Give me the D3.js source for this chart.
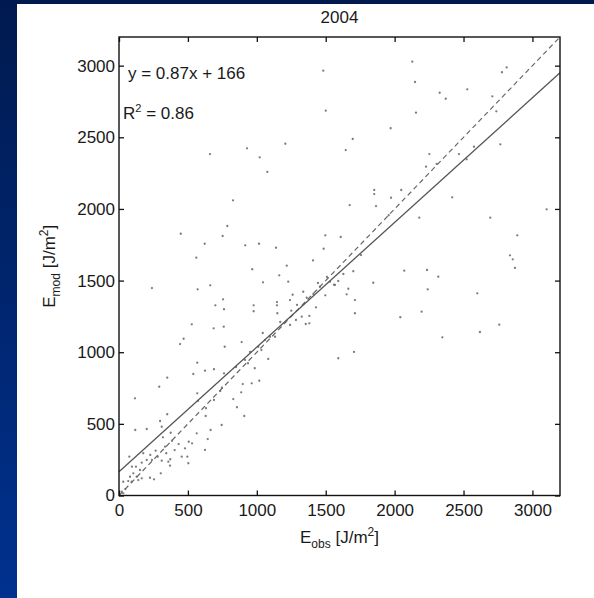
<!DOCTYPE html>
<html>
<head>
<meta charset="utf-8">
<script src="https://cdn.jsdelivr.net/npm/d3@7"></script>
<style>
  html, body { margin: 0; padding: 0; background: #fff; }
  svg { display: block; }
  text { font-family: "Liberation Sans", Arial, Helvetica, sans-serif; fill: #1a1a1a; }
</style>
</head>
<body>
<svg id="chart" width="594" height="598"></svg>
<script>
// Observed vs modelled energy, 2004 season
const obsValues = [
  660, 929, 1021, 1207, 1482, 1500, 1696, 1645, 1971, 2128, 2148, 2155, 2327, 2371, 2527, 2709, 2738, 2779, 2813, 2767,
  2576, 2467, 2252, 2228, 2305, 2523, 1852, 1852, 2048, 1974, 1674, 1865, 2418, 2179, 1957, 2694, 3103, 2890, 1497, 1609,
  1485, 1408, 2837, 2857, 2873, 2070, 2235, 2317, 1700, 1845, 2240, 2600, 1664, 1652, 1712, 1497, 1560, 1591, 1429, 1337,
  1362, 1326, 1381, 1355, 1381, 1712, 2196, 2041, 2759, 2619, 2346, 1756, 1628, 1591, 1705, 1076, 827, 448, 786, 752,
  622, 561, 916, 1016, 1139, 1217, 967, 1163, 1228, 1045, 239, 571, 662, 755, 699, 762, 977, 977, 1146, 1146,
  1149, 1260, 1250, 1170, 1043, 528, 687, 760, 469, 443, 767, 890, 1458, 1531, 1567, 1096, 1011, 568, 539, 624,
  689, 568, 350, 292, 116, 118, 201, 350, 298, 310, 573, 631, 629, 665, 762, 985, 936, 1033, 1083, 1018,
  963, 887, 898, 829, 856, 909, 747, 735, 689, 745, 564, 530, 506, 479, 496, 503, 624, 644, 433, 404,
  385, 375, 319, 334, 343, 358, 370, 310, 281, 266, 227, 239, 303, 372, 176, 201, 165, 123, 152, 94,
  104, 128, 80, 67, 31, 92, 140, 165, 225, 254, 455, 46, 20, 31, 75, 1410, 1132, 1241, 1284, 1241,
  1292, 1444, 1509, 1059, 951, 914, 849
];
const modValues = [
  2383, 2423, 2360, 2455, 2965, 2686, 2488, 2411, 2563, 3028, 2886, 2672, 2811, 2769, 2835, 2786, 2681, 2954, 2988, 2451,
  2434, 2383, 2383, 2295, 2314, 2346, 2132, 2104, 2132, 2078, 2027, 2020, 2081, 1939, 1956, 1939, 1997, 1816, 1816, 1804,
  1722, 1641, 1676, 1648, 1588, 1569, 1574, 1527, 1565, 1485, 1439, 1411, 1443, 1404, 1364, 1397, 1471, 1497, 1313, 1422,
  1380, 1248, 1253, 1197, 1202, 1272, 1283, 1244, 1192, 1141, 1104, 1678, 1546, 958, 1002, 2258, 2060, 1827, 1881, 1811,
  1757, 1660, 1746, 1757, 1729, 1604, 1579, 1537, 1492, 1488, 1448, 1439, 1467, 1369, 1327, 1300, 1327, 1286, 1350, 1327,
  1272, 1401, 1290, 1211, 1134, 1195, 1167, 1178, 1094, 1057, 1038, 1071, 1457, 1492, 1469, 1108, 1038, 927, 848, 871,
  881, 713, 822, 759, 678, 457, 464, 567, 520, 480, 660, 609, 555, 457, 853, 888, 923, 1015, 953, 801,
  783, 720, 778, 673, 616, 555, 752, 729, 667, 492, 434, 364, 375, 329, 271, 225, 318, 394, 359, 317,
  382, 438, 406, 341, 295, 236, 208, 243, 271, 313, 283, 248, 155, 253, 295, 248, 229, 201, 178, 201,
  155, 131, 131, 101, 96, 96, 108, 120, 124, 113, 271, 45, 27, 15, 271, 1406, 1108, 1190, 1225, 1364,
  1330, 1483, 1525, 1085, 1002, 946, 897
];
const xTicks = [0, 500, 1000, 1500, 2000, 2500, 3000];
const yTicks = [0, 500, 1000, 1500, 2000, 2500, 3000];
const axisMax = 3200;
const fitSlope = 0.87;
const fitIntercept = 166;
const rSquared = 0.86;
const chartTitle = "2004";

const svg = d3.select("#chart");

// Backdrop: navy gradient with a white sheet on top
const defs = svg.append("defs");
const grad = defs.append("linearGradient")
  .attr("id", "bg").attr("x1", 0).attr("y1", 0).attr("x2", 0).attr("y2", 1);
grad.append("stop").attr("offset", "0%").attr("stop-color", "#001a4f");
grad.append("stop").attr("offset", "100%").attr("stop-color", "#00318f");
svg.append("rect").attr("width", 594).attr("height", 598).attr("fill", "url(#bg)");
svg.append("rect").attr("x", 17).attr("y", 4).attr("width", 577).attr("height", 594).attr("fill", "#ffffff");

const plotLeft = 119, plotRight = 560, plotTop = 37, plotBottom = 495.5;
const x = d3.scaleLinear().domain([0, axisMax]).range([plotLeft, plotRight]);
const y = d3.scaleLinear().domain([0, axisMax]).range([plotBottom, plotTop]);

const fontSize = 17;

// Scatter points
const points = obsValues.map((o, i) => ({ obs: o, mod: modValues[i] }));
svg.append("g")
  .selectAll("circle")
  .data(points)
  .join("circle")
  .attr("cx", d => x(d.obs))
  .attr("cy", d => y(d.mod))
  .attr("r", 1.15)
  .attr("fill", "#7c7c7c");

// 1:1 reference line
svg.append("line")
  .attr("x1", x(0)).attr("y1", y(0))
  .attr("x2", x(axisMax)).attr("y2", y(axisMax))
  .attr("stroke", "#666").attr("stroke-width", 1.2)
  .attr("stroke-dasharray", "5,3.5");

// Least-squares fit line
svg.append("line")
  .attr("x1", x(0)).attr("y1", y(fitIntercept))
  .attr("x2", x(axisMax)).attr("y2", y(fitSlope * axisMax + fitIntercept))
  .attr("stroke", "#555").attr("stroke-width", 1.3);

// Axes with inward ticks on all four sides
const fmt = d3.format("d");
const styleAxis = g => {
  g.select(".domain").remove();
  g.selectAll(".tick line").attr("stroke", "#111").attr("stroke-width", 1.3);
  g.selectAll(".tick text")
    .attr("font-family", '"Liberation Sans", Arial, sans-serif')
    .attr("font-size", fontSize).attr("fill", "#1a1a1a");
};
svg.append("g").attr("transform", `translate(0,${plotBottom})`)
  .call(d3.axisBottom(x).tickValues(xTicks).tickFormat(fmt).tickSize(-5).tickPadding(8))
  .call(styleAxis);
svg.append("g").attr("transform", `translate(${plotLeft},0)`)
  .call(d3.axisLeft(y).tickValues(yTicks).tickFormat(fmt).tickSize(-5).tickPadding(4))
  .call(styleAxis);
svg.append("g").attr("transform", `translate(0,${plotTop})`)
  .call(d3.axisTop(x).tickValues(xTicks).tickFormat("").tickSize(-5))
  .call(styleAxis);
svg.append("g").attr("transform", `translate(${plotRight},0)`)
  .call(d3.axisRight(y).tickValues(yTicks).tickFormat("").tickSize(-5))
  .call(styleAxis);

// Frame
svg.append("rect")
  .attr("x", plotLeft).attr("y", plotTop)
  .attr("width", plotRight - plotLeft).attr("height", plotBottom - plotTop)
  .attr("fill", "none").attr("stroke", "#111").attr("stroke-width", 1.4);

// Title
svg.append("text")
  .attr("x", (plotLeft + plotRight) / 2).attr("y", 23)
  .attr("text-anchor", "middle").attr("font-size", fontSize)
  .text(chartTitle);

// Fit annotation
svg.append("text")
  .attr("x", 128).attr("y", 79).attr("font-size", fontSize)
  .text(`y = ${fitSlope}x + ${fitIntercept}`);
const r2 = svg.append("text").attr("x", 123).attr("y", 119).attr("font-size", fontSize);
r2.append("tspan").text("R");
r2.append("tspan").attr("font-size", 11).attr("dy", -7).text("2");
r2.append("tspan").attr("dy", 7).text(` = ${rSquared}`);

// Axis labels with sub/superscripts
function unitLabel(sel, sub) {
  sel.append("tspan").text("E");
  sel.append("tspan").attr("font-size", 12).attr("dy", 5).text(sub);
  sel.append("tspan").attr("dy", -5).text(" [J/m");
  sel.append("tspan").attr("font-size", 12).attr("dy", -7).text("2");
  sel.append("tspan").attr("dy", 7).text("]");
}
const xl = svg.append("text")
  .attr("x", (plotLeft + plotRight) / 2).attr("y", 543)
  .attr("text-anchor", "middle").attr("font-size", fontSize);
unitLabel(xl, "obs");
const yl = svg.append("text")
  .attr("transform", `translate(55,${(plotTop + plotBottom) / 2}) rotate(-90)`)
  .attr("text-anchor", "middle").attr("font-size", fontSize);
unitLabel(yl, "mod");
</script>
</body>
</html>
